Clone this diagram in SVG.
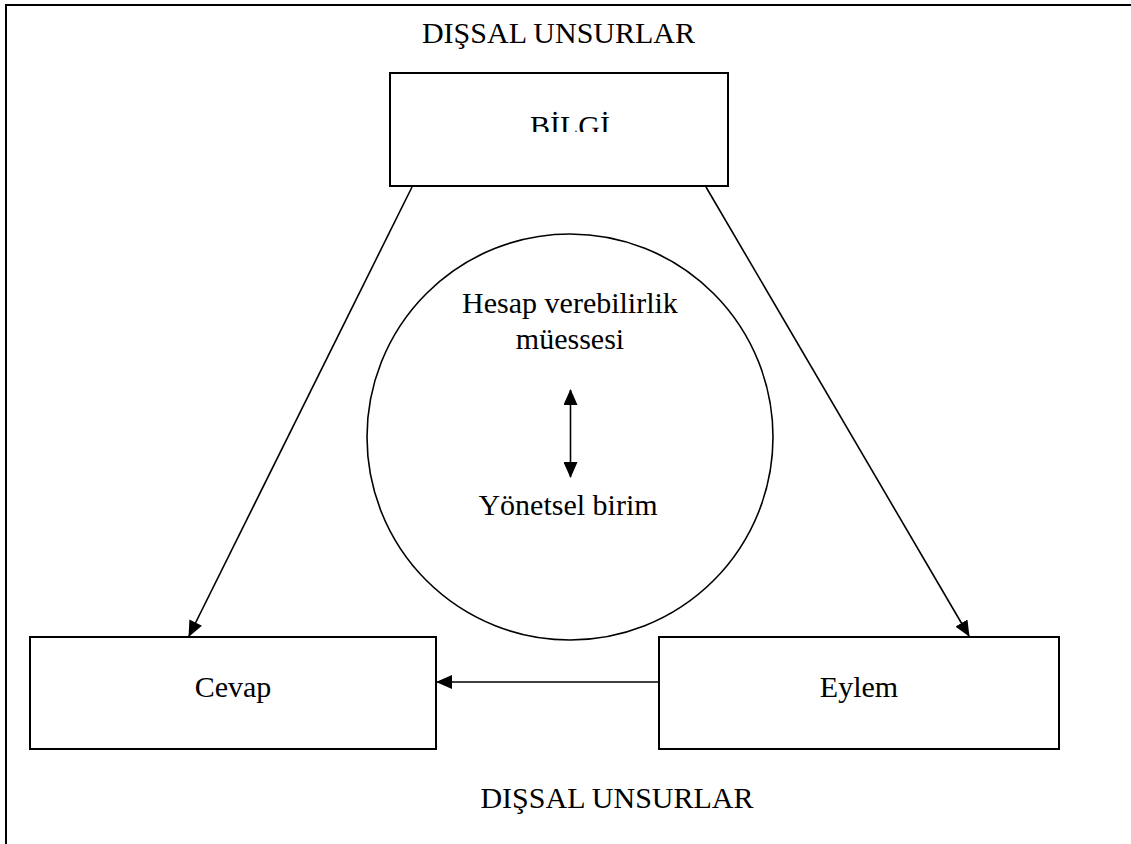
<svg xmlns="http://www.w3.org/2000/svg" width="1131" height="844" viewBox="0 0 1131 844">
<style>
.t{font-family:"Liberation Serif","Times New Roman",serif;font-size:30px;fill:#000}
.box{fill:#fff;stroke:#000;stroke-width:2}
.ln{fill:none;stroke:#000;stroke-width:1.6}
</style>
<defs>
<marker id="ah" markerUnits="userSpaceOnUse" markerWidth="16" markerHeight="14" refX="15" refY="7" orient="auto-start-reverse" viewBox="0 0 16 14">
<path d="M0,0 L16,7 L0,14 Z" fill="#000"/>
</marker>
<clipPath id="bclip"><rect x="390" y="73" width="338" height="59"/></clipPath>
</defs>
<rect width="1131" height="844" fill="#fff"/>
<g id="border">
<path d="M6,844 V5 H1131" fill="none" stroke="#000" stroke-width="2"/>
</g>
<text class="t" x="558.5" y="43" text-anchor="middle">DIŞSAL UNSURLAR</text>
<text class="t" x="617" y="808" text-anchor="middle">DIŞSAL UNSURLAR</text>
<g id="connectors">
<line class="ln" x1="412" y1="187" x2="189" y2="636" marker-end="url(#ah)"/>
<line class="ln" x1="706" y1="187" x2="969" y2="636" marker-end="url(#ah)"/>
<line class="ln" x1="659" y1="682" x2="437" y2="682" marker-end="url(#ah)"/>
</g>
<g id="bilgi">
<rect class="box" x="390" y="73" width="338" height="113"/>
<text class="t" x="570" y="136" text-anchor="middle" clip-path="url(#bclip)">BİLGİ</text>
</g>
<g id="hesap">
<circle cx="570" cy="437" r="203" fill="none" stroke="#000" stroke-width="1.6"/>
<text class="t" x="570" y="313" text-anchor="middle">Hesap verebilirlik</text>
<text class="t" x="570" y="349" text-anchor="middle">müessesi</text>
<line class="ln" x1="570.5" y1="390" x2="570.5" y2="477" marker-start="url(#ah)" marker-end="url(#ah)"/>
<text class="t" x="568" y="515" text-anchor="middle">Yönetsel birim</text>
</g>
<g id="cevap">
<rect class="box" x="30" y="637" width="406" height="112"/>
<text class="t" x="233" y="697" text-anchor="middle">Cevap</text>
</g>
<g id="eylem">
<rect class="box" x="659" y="637" width="400" height="112"/>
<text class="t" x="859" y="697" text-anchor="middle">Eylem</text>
</g>
</svg>
